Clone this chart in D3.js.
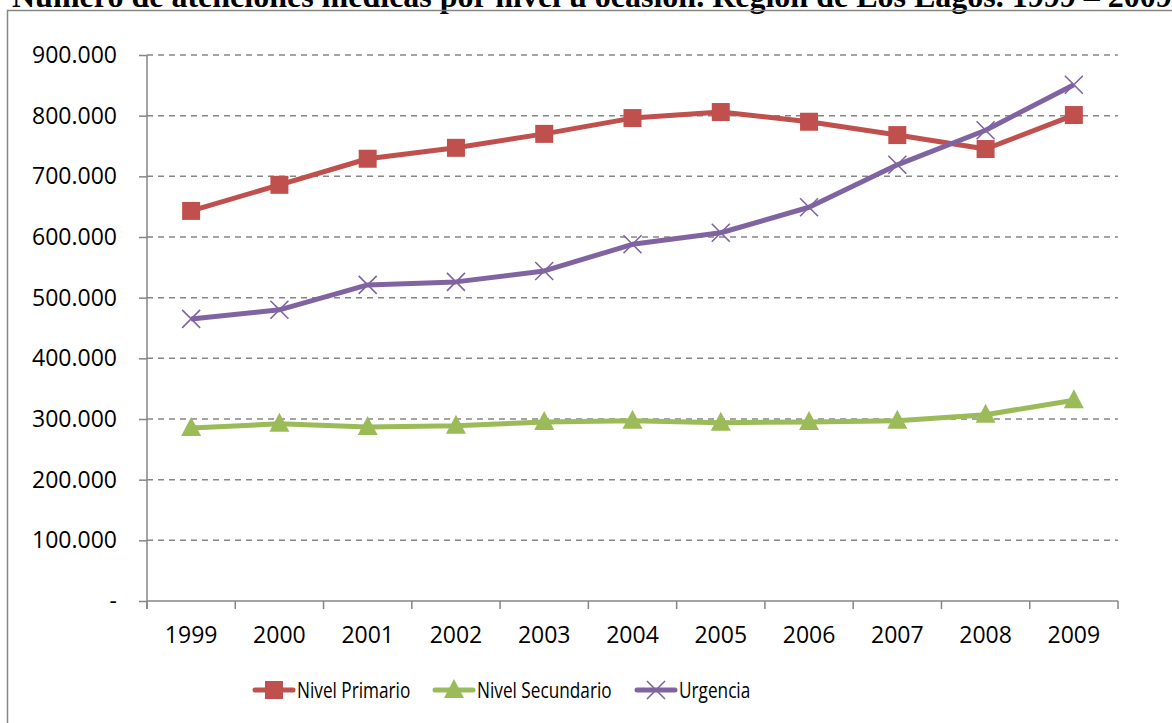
<!DOCTYPE html>
<html>
<head>
<meta charset="utf-8">
<script src="https://cdn.jsdelivr.net/npm/d3@7"></script>
<style>
  body { margin: 0; background: #fff; }
  svg { display: block; }
</style>
</head>
<body>
<div id="chart"></div>
<script>
// Data
var years = ["1999", "2000", "2001", "2002", "2003", "2004", "2005", "2006", "2007", "2008", "2009"];
var nivelPrimario   = [643000, 686000, 729000, 747000, 770000, 796000, 806000, 790000, 768000, 745000, 801000];
var nivelSecundario = [285000, 292000, 287000, 289000, 295000, 297000, 294000, 295000, 297000, 307000, 331000];
var urgencia        = [465000, 480000, 521000, 526000, 544000, 588000, 607000, 649000, 719000, 776000, 851000];
var yTicks = [0, 100000, 200000, 300000, 400000, 500000, 600000, 700000, 800000, 900000];
var seriesNames = ["Nivel Primario", "Nivel Secundario", "Urgencia"];
var seriesColors = ["#C0504D", "#9BBB59", "#8064A2"];
var titleText = "Número de atenciones médicas por nivel u ocasión. Región de Los Lagos. 1999 – 2009";

var W = 1172, H = 723;
var plot = { left: 147, right: 1118, top: 55, bottom: 601 };
var font = "'Open Sans', 'Noto Sans', sans-serif";
var gray = "#868686";

var svg = d3.select("#chart").append("svg")
  .attr("width", W)
  .attr("height", H);

// title, cut off by the top of the page (as in the source)
svg.append("text")
  .attr("x", 12)
  .attr("y", 7)
  .attr("font-family", "'Liberation Serif', 'Times New Roman', serif")
  .attr("font-weight", "bold")
  .attr("font-size", 32)
  .attr("fill", "#000")
  .text(titleText);

// chart frame
svg.append("rect")
  .attr("x", 7.5)
  .attr("y", 10.5)
  .attr("width", W + 20)
  .attr("height", H + 20)
  .attr("fill", "none")
  .attr("stroke", gray)
  .attr("stroke-width", 1.5);

var x = d3.scaleBand()
  .domain(years)
  .range([plot.left, plot.right]);

var y = d3.scaleLinear()
  .domain([0, 900000])
  .range([plot.bottom, plot.top]);

var fmt = function(v) {
  if (v === 0) return "-";
  return d3.format(",")(v).replace(/,/g, ".");
};

// dashed gridlines
svg.append("g").selectAll("line")
  .data(yTicks.filter(function(d) { return d > 0; }))
  .enter().append("line")
  .attr("x1", plot.left)
  .attr("x2", plot.right)
  .attr("y1", function(d) { return y(d); })
  .attr("y2", function(d) { return y(d); })
  .attr("stroke", gray)
  .attr("stroke-width", 1.5)
  .attr("stroke-dasharray", "6,5");

// y axis
var yAxis = d3.axisLeft(y)
  .tickValues(yTicks)
  .tickSize(8)
  .tickPadding(22)
  .tickFormat(fmt);

var gy = svg.append("g")
  .attr("transform", "translate(" + plot.left + ",0)")
  .call(yAxis);
gy.select(".domain").remove();
gy.selectAll(".tick line").attr("stroke", gray).attr("stroke-width", 1.5);
gy.selectAll("text")
  .attr("font-family", font)
  .attr("font-size", 23)
  .attr("fill", "#000");
gy.append("line")
  .attr("x1", 0).attr("x2", 0)
  .attr("y1", plot.top).attr("y2", plot.bottom + 8)
  .attr("stroke", gray)
  .attr("stroke-width", 1.5);

// x axis
var gx = svg.append("g")
  .attr("transform", "translate(0," + plot.bottom + ")");
gx.append("line")
  .attr("x1", plot.left).attr("x2", plot.right)
  .attr("stroke", gray)
  .attr("stroke-width", 1.5);
var edges = years.map(function(d) { return x(d); }).concat([plot.right]);
gx.selectAll(".xtick")
  .data(edges)
  .enter().append("line")
  .attr("class", "xtick")
  .attr("x1", function(d) { return d; })
  .attr("x2", function(d) { return d; })
  .attr("y1", 0)
  .attr("y2", 8)
  .attr("stroke", gray)
  .attr("stroke-width", 1.5);
gx.selectAll(".xlab")
  .data(years)
  .enter().append("text")
  .attr("class", "xlab")
  .attr("x", function(d) { return x(d) + x.bandwidth() / 2; })
  .attr("y", 42)
  .attr("text-anchor", "middle")
  .attr("font-family", font)
  .attr("font-size", 23)
  .attr("fill", "#000")
  .text(function(d) { return d; });

// series
var allSeries = [nivelPrimario, nivelSecundario, urgencia];
var cx = function(d, i) { return x(years[i]) + x.bandwidth() / 2; };

var line = d3.line()
  .x(cx)
  .y(function(d) { return y(d); });

function drawMarker(g, kind, color) {
  if (kind === 0) {
    g.append("rect")
      .attr("x", -9).attr("y", -9)
      .attr("width", 18).attr("height", 18)
      .attr("fill", color);
  } else if (kind === 1) {
    g.append("path")
      .attr("d", "M0,-11L10,8L-10,8Z")
      .attr("fill", color);
  } else {
    g.append("path")
      .attr("d", "M-9,-9L9,9M-9,9L9,-9")
      .attr("stroke", color)
      .attr("stroke-width", 1.6)
      .attr("fill", "none");
  }
}

allSeries.forEach(function(vals, s) {
  svg.append("path")
    .datum(vals)
    .attr("d", line)
    .attr("fill", "none")
    .attr("stroke", seriesColors[s])
    .attr("stroke-width", 5)
    .attr("stroke-linejoin", "round");
  svg.append("g").selectAll("g")
    .data(vals)
    .enter().append("g")
    .attr("transform", function(d, i) { return "translate(" + cx(d, i) + "," + y(d) + ")"; })
    .each(function() { drawMarker(d3.select(this), s, seriesColors[s]); });
});

// legend
var legendX = [255, 435, 637];
var legend = svg.append("g").attr("transform", "translate(0,690)");
seriesNames.forEach(function(name, s) {
  var g = legend.append("g").attr("transform", "translate(" + legendX[s] + ",0)");
  g.append("line")
    .attr("x1", 0).attr("x2", 38)
    .attr("stroke", seriesColors[s])
    .attr("stroke-width", 5)
    .attr("stroke-linecap", "round");
  var m = g.append("g").attr("transform", "translate(19,0)");
  drawMarker(m, s, seriesColors[s]);
  // narrow the text a little, the source font is condensed
  g.append("text")
    .attr("transform", "translate(42,7.5) scale(0.82,1)")
    .attr("font-family", font)
    .attr("font-size", 21)
    .attr("fill", "#000")
    .text(name);
});
</script>
</body>
</html>
